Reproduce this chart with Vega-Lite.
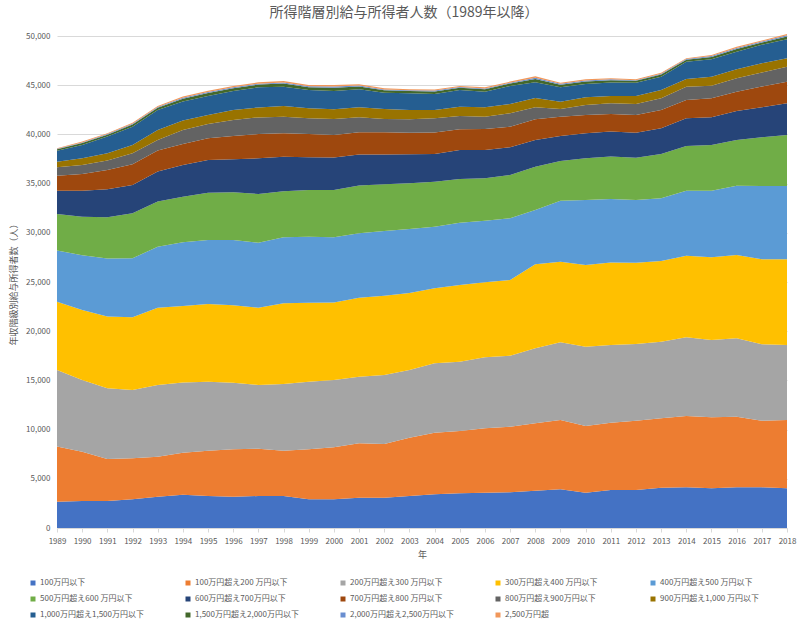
{
"$schema":"https://vega.github.io/schema/vega-lite/v6.json",
"autosize":{"type":"none"},
"padding":{"left":57,"top":36,"right":13,"bottom":93},
"width":730,"height":492,
"background":"white",
"config":{"font":"Noto Sans CJK JP","view":{"stroke":null}},
"title":{"text":"所得階層別給与所得者人数（1989年以降）","fontSize":14,"font":"Noto Sans CJK JP","fontWeight":"normal","color":"#595959","anchor":"middle","offset":12,"dx":-18},
"datasets":{
"cats":[{"o":1,"s":"100万円以下"},{"o":2,"s":"100万円超え200 万円以下"},{"o":3,"s":"200万円超え300 万円以下"},{"o":4,"s":"300万円超え400 万円以下"},{"o":5,"s":"400万円超え500 万円以下"},{"o":6,"s":"500万円超え600 万円以下"},{"o":7,"s":"600万円超え700万円以下"},{"o":8,"s":"700万円超え800 万円以下"},{"o":9,"s":"800万円超え900万円以下"},{"o":10,"s":"900万円超え1,000 万円以下"},{"o":11,"s":"1,000万円超え1,500万円以下"},{"o":12,"s":"1,500万円超え2,000万円以下"},{"o":13,"s":"2,000万円超え2,500万円以下"},{"o":14,"s":"2,500万円超"}],
"main":[
{"y":1989,"o":1,"v":2680},{"y":1989,"o":2,"v":5590},{"y":1989,"o":3,"v":7790},{"y":1989,"o":4,"v":6945},{"y":1989,"o":5,"v":5185},{"y":1989,"o":6,"v":3725},{"y":1989,"o":7,"v":2370},{"y":1989,"o":8,"v":1525},{"y":1989,"o":9,"v":845},{"y":1989,"o":10,"v":575},{"y":1989,"o":11,"v":1120},{"y":1989,"o":12,"v":130},{"y":1989,"o":13,"v":50},{"y":1989,"o":14,"v":57},
{"y":1990,"o":1,"v":2740},{"y":1990,"o":2,"v":5015},{"y":1990,"o":3,"v":7285},{"y":1990,"o":4,"v":7115},{"y":1990,"o":5,"v":5555},{"y":1990,"o":6,"v":3930},{"y":1990,"o":7,"v":2645},{"y":1990,"o":8,"v":1695},{"y":1990,"o":9,"v":915},{"y":1990,"o":10,"v":680},{"y":1990,"o":11,"v":1355},{"y":1990,"o":12,"v":185},{"y":1990,"o":13,"v":70},{"y":1990,"o":14,"v":85},
{"y":1991,"o":1,"v":2745},{"y":1991,"o":2,"v":4270},{"y":1991,"o":3,"v":7185},{"y":1991,"o":4,"v":7285},{"y":1991,"o":5,"v":5895},{"y":1991,"o":6,"v":4200},{"y":1991,"o":7,"v":2845},{"y":1991,"o":8,"v":1965},{"y":1991,"o":9,"v":950},{"y":1991,"o":10,"v":745},{"y":1991,"o":11,"v":1695},{"y":1991,"o":12,"v":185},{"y":1991,"o":13,"v":70},{"y":1991,"o":14,"v":85},
{"y":1992,"o":1,"v":2915},{"y":1992,"o":2,"v":4165},{"y":1992,"o":3,"v":6945},{"y":1992,"o":4,"v":7385},{"y":1992,"o":5,"v":5995},{"y":1992,"o":6,"v":4575},{"y":1992,"o":7,"v":2880},{"y":1992,"o":8,"v":2100},{"y":1992,"o":9,"v":1120},{"y":1992,"o":10,"v":845},{"y":1992,"o":11,"v":1865},{"y":1992,"o":12,"v":225},{"y":1992,"o":13,"v":80},{"y":1992,"o":14,"v":100},
{"y":1993,"o":1,"v":3185},{"y":1993,"o":2,"v":4065},{"y":1993,"o":3,"v":7285},{"y":1993,"o":4,"v":7860},{"y":1993,"o":5,"v":6200},{"y":1993,"o":6,"v":4575},{"y":1993,"o":7,"v":3050},{"y":1993,"o":8,"v":2135},{"y":1993,"o":9,"v":1085},{"y":1993,"o":10,"v":1015},{"y":1993,"o":11,"v":2030},{"y":1993,"o":12,"v":225},{"y":1993,"o":13,"v":80},{"y":1993,"o":14,"v":100},
{"y":1994,"o":1,"v":3390},{"y":1994,"o":2,"v":4270},{"y":1994,"o":3,"v":7115},{"y":1994,"o":4,"v":7790},{"y":1994,"o":5,"v":6470},{"y":1994,"o":6,"v":4640},{"y":1994,"o":7,"v":3220},{"y":1994,"o":8,"v":2135},{"y":1994,"o":9,"v":1425},{"y":1994,"o":10,"v":950},{"y":1994,"o":11,"v":1930},{"y":1994,"o":12,"v":280},{"y":1994,"o":13,"v":100},{"y":1994,"o":14,"v":130},
{"y":1995,"o":1,"v":3250},{"y":1995,"o":2,"v":4605},{"y":1995,"o":3,"v":7015},{"y":1995,"o":4,"v":7895},{"y":1995,"o":5,"v":6505},{"y":1995,"o":6,"v":4810},{"y":1995,"o":7,"v":3320},{"y":1995,"o":8,"v":2200},{"y":1995,"o":9,"v":1455},{"y":1995,"o":10,"v":915},{"y":1995,"o":11,"v":1930},{"y":1995,"o":12,"v":300},{"y":1995,"o":13,"v":110},{"y":1995,"o":14,"v":135},
{"y":1996,"o":1,"v":3185},{"y":1996,"o":2,"v":4810},{"y":1996,"o":3,"v":6775},{"y":1996,"o":4,"v":7860},{"y":1996,"o":5,"v":6640},{"y":1996,"o":6,"v":4845},{"y":1996,"o":7,"v":3355},{"y":1996,"o":8,"v":2370},{"y":1996,"o":9,"v":1625},{"y":1996,"o":10,"v":1015},{"y":1996,"o":11,"v":1930},{"y":1996,"o":12,"v":280},{"y":1996,"o":13,"v":100},{"y":1996,"o":14,"v":125},
{"y":1997,"o":1,"v":3250},{"y":1997,"o":2,"v":4810},{"y":1997,"o":3,"v":6470},{"y":1997,"o":4,"v":7860},{"y":1997,"o":5,"v":6605},{"y":1997,"o":6,"v":4945},{"y":1997,"o":7,"v":3625},{"y":1997,"o":8,"v":2470},{"y":1997,"o":9,"v":1695},{"y":1997,"o":10,"v":1015},{"y":1997,"o":11,"v":2035},{"y":1997,"o":12,"v":280},{"y":1997,"o":13,"v":100},{"y":1997,"o":14,"v":130},
{"y":1998,"o":1,"v":3250},{"y":1998,"o":2,"v":4605},{"y":1998,"o":3,"v":6775},{"y":1998,"o":4,"v":8200},{"y":1998,"o":5,"v":6710},{"y":1998,"o":6,"v":4675},{"y":1998,"o":7,"v":3525},{"y":1998,"o":8,"v":2370},{"y":1998,"o":9,"v":1695},{"y":1998,"o":10,"v":1085},{"y":1998,"o":11,"v":1965},{"y":1998,"o":12,"v":315},{"y":1998,"o":13,"v":115},{"y":1998,"o":14,"v":145},
{"y":1999,"o":1,"v":2915},{"y":1999,"o":2,"v":5080},{"y":1999,"o":3,"v":6875},{"y":1999,"o":4,"v":8030},{"y":1999,"o":5,"v":6710},{"y":1999,"o":6,"v":4740},{"y":1999,"o":7,"v":3320},{"y":1999,"o":8,"v":2370},{"y":1999,"o":9,"v":1595},{"y":1999,"o":10,"v":1015},{"y":1999,"o":11,"v":1865},{"y":1999,"o":12,"v":280},{"y":1999,"o":13,"v":100},{"y":1999,"o":14,"v":130},
{"y":2000,"o":1,"v":2915},{"y":2000,"o":2,"v":5285},{"y":2000,"o":3,"v":6845},{"y":2000,"o":4,"v":7860},{"y":2000,"o":5,"v":6640},{"y":2000,"o":6,"v":4810},{"y":2000,"o":7,"v":3285},{"y":2000,"o":8,"v":2300},{"y":2000,"o":9,"v":1625},{"y":2000,"o":10,"v":980},{"y":2000,"o":11,"v":1865},{"y":2000,"o":12,"v":335},{"y":2000,"o":13,"v":120},{"y":2000,"o":14,"v":155},
{"y":2001,"o":1,"v":3085},{"y":2001,"o":2,"v":5520},{"y":2001,"o":3,"v":6775},{"y":2001,"o":4,"v":8030},{"y":2001,"o":5,"v":6540},{"y":2001,"o":6,"v":4845},{"y":2001,"o":7,"v":3150},{"y":2001,"o":8,"v":2270},{"y":2001,"o":9,"v":1525},{"y":2001,"o":10,"v":1015},{"y":2001,"o":11,"v":1830},{"y":2001,"o":12,"v":280},{"y":2001,"o":13,"v":100},{"y":2001,"o":14,"v":130},
{"y":2002,"o":1,"v":3085},{"y":2002,"o":2,"v":5455},{"y":2002,"o":3,"v":7010},{"y":2002,"o":4,"v":8065},{"y":2002,"o":5,"v":6570},{"y":2002,"o":6,"v":4745},{"y":2002,"o":7,"v":3015},{"y":2002,"o":8,"v":2270},{"y":2002,"o":9,"v":1355},{"y":2002,"o":10,"v":1015},{"y":2002,"o":11,"v":1660},{"y":2002,"o":12,"v":240},{"y":2002,"o":13,"v":90},{"y":2002,"o":14,"v":110},
{"y":2003,"o":1,"v":3250},{"y":2003,"o":2,"v":5910},{"y":2003,"o":3,"v":6900},{"y":2003,"o":4,"v":7820},{"y":2003,"o":5,"v":6510},{"y":2003,"o":6,"v":4640},{"y":2003,"o":7,"v":2945},{"y":2003,"o":8,"v":2200},{"y":2003,"o":9,"v":1355},{"y":2003,"o":10,"v":950},{"y":2003,"o":11,"v":1695},{"y":2003,"o":12,"v":225},{"y":2003,"o":13,"v":80},{"y":2003,"o":14,"v":100},
{"y":2004,"o":1,"v":3420},{"y":2004,"o":2,"v":6270},{"y":2004,"o":3,"v":7045},{"y":2004,"o":4,"v":7620},{"y":2004,"o":5,"v":6265},{"y":2004,"o":6,"v":4575},{"y":2004,"o":7,"v":2810},{"y":2004,"o":8,"v":2200},{"y":2004,"o":9,"v":1425},{"y":2004,"o":10,"v":845},{"y":2004,"o":11,"v":1625},{"y":2004,"o":12,"v":260},{"y":2004,"o":13,"v":95},{"y":2004,"o":14,"v":120},
{"y":2005,"o":1,"v":3525},{"y":2005,"o":2,"v":6335},{"y":2005,"o":3,"v":7045},{"y":2005,"o":4,"v":7790},{"y":2005,"o":5,"v":6335},{"y":2005,"o":6,"v":4440},{"y":2005,"o":7,"v":2945},{"y":2005,"o":8,"v":2100},{"y":2005,"o":9,"v":1355},{"y":2005,"o":10,"v":950},{"y":2005,"o":11,"v":1695},{"y":2005,"o":12,"v":225},{"y":2005,"o":13,"v":80},{"y":2005,"o":14,"v":100},
{"y":2006,"o":1,"v":3590},{"y":2006,"o":2,"v":6540},{"y":2006,"o":3,"v":7215},{"y":2006,"o":4,"v":7620},{"y":2006,"o":5,"v":6270},{"y":2006,"o":6,"v":4300},{"y":2006,"o":7,"v":2880},{"y":2006,"o":8,"v":2135},{"y":2006,"o":9,"v":1255},{"y":2006,"o":10,"v":945},{"y":2006,"o":11,"v":1595},{"y":2006,"o":12,"v":240},{"y":2006,"o":13,"v":90},{"y":2006,"o":14,"v":110},
{"y":2007,"o":1,"v":3625},{"y":2007,"o":2,"v":6675},{"y":2007,"o":3,"v":7215},{"y":2007,"o":4,"v":7690},{"y":2007,"o":5,"v":6270},{"y":2007,"o":6,"v":4405},{"y":2007,"o":7,"v":2810},{"y":2007,"o":8,"v":2100},{"y":2007,"o":9,"v":1355},{"y":2007,"o":10,"v":950},{"y":2007,"o":11,"v":1830},{"y":2007,"o":12,"v":245},{"y":2007,"o":13,"v":90},{"y":2007,"o":14,"v":105},
{"y":2008,"o":1,"v":3795},{"y":2008,"o":2,"v":6845},{"y":2008,"o":3,"v":7625},{"y":2008,"o":4,"v":8535},{"y":2008,"o":5,"v":5520},{"y":2008,"o":6,"v":4380},{"y":2008,"o":7,"v":2730},{"y":2008,"o":8,"v":2100},{"y":2008,"o":9,"v":1220},{"y":2008,"o":10,"v":950},{"y":2008,"o":11,"v":1595},{"y":2008,"o":12,"v":335},{"y":2008,"o":13,"v":120},{"y":2008,"o":14,"v":150},
{"y":2009,"o":1,"v":3930},{"y":2009,"o":2,"v":7045},{"y":2009,"o":3,"v":7895},{"y":2009,"o":4,"v":8195},{"y":2009,"o":5,"v":6200},{"y":2009,"o":6,"v":4030},{"y":2009,"o":7,"v":2540},{"y":2009,"o":8,"v":1965},{"y":2009,"o":9,"v":780},{"y":2009,"o":10,"v":745},{"y":2009,"o":11,"v":1455},{"y":2009,"o":12,"v":260},{"y":2009,"o":13,"v":95},{"y":2009,"o":14,"v":120},
{"y":2010,"o":1,"v":3590},{"y":2010,"o":2,"v":6775},{"y":2010,"o":3,"v":8065},{"y":2010,"o":4,"v":8300},{"y":2010,"o":5,"v":6605},{"y":2010,"o":6,"v":4235},{"y":2010,"o":7,"v":2540},{"y":2010,"o":8,"v":1865},{"y":2010,"o":9,"v":1015},{"y":2010,"o":10,"v":780},{"y":2010,"o":11,"v":1355},{"y":2010,"o":12,"v":260},{"y":2010,"o":13,"v":95},{"y":2010,"o":14,"v":120},
{"y":2011,"o":1,"v":3860},{"y":2011,"o":2,"v":6845},{"y":2011,"o":3,"v":7895},{"y":2011,"o":4,"v":8370},{"y":2011,"o":5,"v":6470},{"y":2011,"o":6,"v":4305},{"y":2011,"o":7,"v":2540},{"y":2011,"o":8,"v":1795},{"y":2011,"o":9,"v":1085},{"y":2011,"o":10,"v":745},{"y":2011,"o":11,"v":1355},{"y":2011,"o":12,"v":245},{"y":2011,"o":13,"v":90},{"y":2011,"o":14,"v":105},
{"y":2012,"o":1,"v":3860},{"y":2012,"o":2,"v":7045},{"y":2012,"o":3,"v":7790},{"y":2012,"o":4,"v":8265},{"y":2012,"o":5,"v":6370},{"y":2012,"o":6,"v":4300},{"y":2012,"o":7,"v":2540},{"y":2012,"o":8,"v":1795},{"y":2012,"o":9,"v":1120},{"y":2012,"o":10,"v":815},{"y":2012,"o":11,"v":1355},{"y":2012,"o":12,"v":185},{"y":2012,"o":13,"v":70},{"y":2012,"o":14,"v":85},
{"y":2013,"o":1,"v":4100},{"y":2013,"o":2,"v":7045},{"y":2013,"o":3,"v":7790},{"y":2013,"o":4,"v":8200},{"y":2013,"o":5,"v":6370},{"y":2013,"o":6,"v":4505},{"y":2013,"o":7,"v":2610},{"y":2013,"o":8,"v":1865},{"y":2013,"o":9,"v":1185},{"y":2013,"o":10,"v":845},{"y":2013,"o":11,"v":1355},{"y":2013,"o":12,"v":225},{"y":2013,"o":13,"v":80},{"y":2013,"o":14,"v":100},
{"y":2014,"o":1,"v":4135},{"y":2014,"o":2,"v":7250},{"y":2014,"o":3,"v":7995},{"y":2014,"o":4,"v":8300},{"y":2014,"o":5,"v":6605},{"y":2014,"o":6,"v":4540},{"y":2014,"o":7,"v":2810},{"y":2014,"o":8,"v":1865},{"y":2014,"o":9,"v":1355},{"y":2014,"o":10,"v":780},{"y":2014,"o":11,"v":1760},{"y":2014,"o":12,"v":185},{"y":2014,"o":13,"v":70},{"y":2014,"o":14,"v":85},
{"y":2015,"o":1,"v":4030},{"y":2015,"o":2,"v":7215},{"y":2015,"o":3,"v":7860},{"y":2015,"o":4,"v":8400},{"y":2015,"o":5,"v":6775},{"y":2015,"o":6,"v":4640},{"y":2015,"o":7,"v":2815},{"y":2015,"o":8,"v":1930},{"y":2015,"o":9,"v":1290},{"y":2015,"o":10,"v":915},{"y":2015,"o":11,"v":1760},{"y":2015,"o":12,"v":240},{"y":2015,"o":13,"v":90},{"y":2015,"o":14,"v":110},
{"y":2016,"o":1,"v":4135},{"y":2016,"o":2,"v":7180},{"y":2016,"o":3,"v":7960},{"y":2016,"o":4,"v":8470},{"y":2016,"o":5,"v":7045},{"y":2016,"o":6,"v":4640},{"y":2016,"o":7,"v":2950},{"y":2016,"o":8,"v":1965},{"y":2016,"o":9,"v":1355},{"y":2016,"o":10,"v":915},{"y":2016,"o":11,"v":1795},{"y":2016,"o":12,"v":280},{"y":2016,"o":13,"v":100},{"y":2016,"o":14,"v":130},
{"y":2017,"o":1,"v":4135},{"y":2017,"o":2,"v":6775},{"y":2017,"o":3,"v":7760},{"y":2017,"o":4,"v":8640},{"y":2017,"o":5,"v":7455},{"y":2017,"o":6,"v":4945},{"y":2017,"o":7,"v":3050},{"y":2017,"o":8,"v":2100},{"y":2017,"o":9,"v":1425},{"y":2017,"o":10,"v":950},{"y":2017,"o":11,"v":1865},{"y":2017,"o":12,"v":240},{"y":2017,"o":13,"v":90},{"y":2017,"o":14,"v":110},
{"y":2018,"o":1,"v":4030},{"y":2018,"o":2,"v":6945},{"y":2018,"o":3,"v":7620},{"y":2018,"o":4,"v":8710},{"y":2018,"o":5,"v":7455},{"y":2018,"o":6,"v":5180},{"y":2018,"o":7,"v":3220},{"y":2018,"o":8,"v":2200},{"y":2018,"o":9,"v":1525},{"y":2018,"o":10,"v":845},{"y":2018,"o":11,"v":1930},{"y":2018,"o":12,"v":300},{"y":2018,"o":13,"v":110},{"y":2018,"o":14,"v":130}
]},
"data":{"name":"main"},
"transform":[{"lookup":"o","from":{"data":{"name":"cats"},"key":"o","fields":["s"]}}],
"mark":{"type":"area","interpolate":"linear"},
"encoding":{
"x":{"field":"y","type":"quantitative","scale":{"domain":[1989,2018],"nice":false,"zero":false},
 "axis":{"values":[1989,1990,1991,1992,1993,1994,1995,1996,1997,1998,1999,2000,2001,2002,2003,2004,2005,2006,2007,2008,2009,2010,2011,2012,2013,2014,2015,2016,2017,2018],"format":"d","title":"年","labelFontSize":8,"labelColor":"#595959","labelOverlap":false,"labelFlush":false,"labelBound":false,"titleFontSize":9,"titleColor":"#595959","titleFontWeight":"normal","grid":false,"domainColor":"#D9D9D9","tickColor":"#D9D9D9","tickSize":4,"labelPadding":5,"titlePadding":5}},
"y":{"field":"v","type":"quantitative","stack":"zero","scale":{"domain":[0,50000],"nice":false},
 "axis":{"values":[0,5000,10000,15000,20000,25000,30000,35000,40000,45000,50000],"format":",d","title":"年収階級別給与所得者数（人）","labelFontSize":8,"labelColor":"#595959","titleFontSize":9,"titleColor":"#595959","titleFontWeight":"normal","domain":false,"ticks":false,"gridColor":"#D9D9D9","labelPadding":7,"titlePadding":7}},
"color":{"field":"s","type":"nominal",
 "scale":{"domain":["100万円以下","100万円超え200 万円以下","200万円超え300 万円以下","300万円超え400 万円以下","400万円超え500 万円以下","500万円超え600 万円以下","600万円超え700万円以下","700万円超え800 万円以下","800万円超え900万円以下","900万円超え1,000 万円以下","1,000万円超え1,500万円以下","1,500万円超え2,000万円以下","2,000万円超え2,500万円以下","2,500万円超"],
  "range":["#4472C4","#ED7D31","#A5A5A5","#FFC000","#5B9BD5","#70AD47","#264478","#9E480E","#636363","#997300","#255E91","#43682B","#698ED0","#F1975A"]},
 "legend":{"title":null,"orient":"none","legendX":-28,"legendY":543,"direction":"horizontal","columns":5,"gridAlign":"all","columnPadding":40,"rowPadding":8,"symbolType":"square","symbolSize":25,"symbolStrokeWidth":0,"labelFontSize":8,"labelColor":"#595959","labelOffset":3}},
"order":{"field":"o","type":"quantitative"}
}
}
